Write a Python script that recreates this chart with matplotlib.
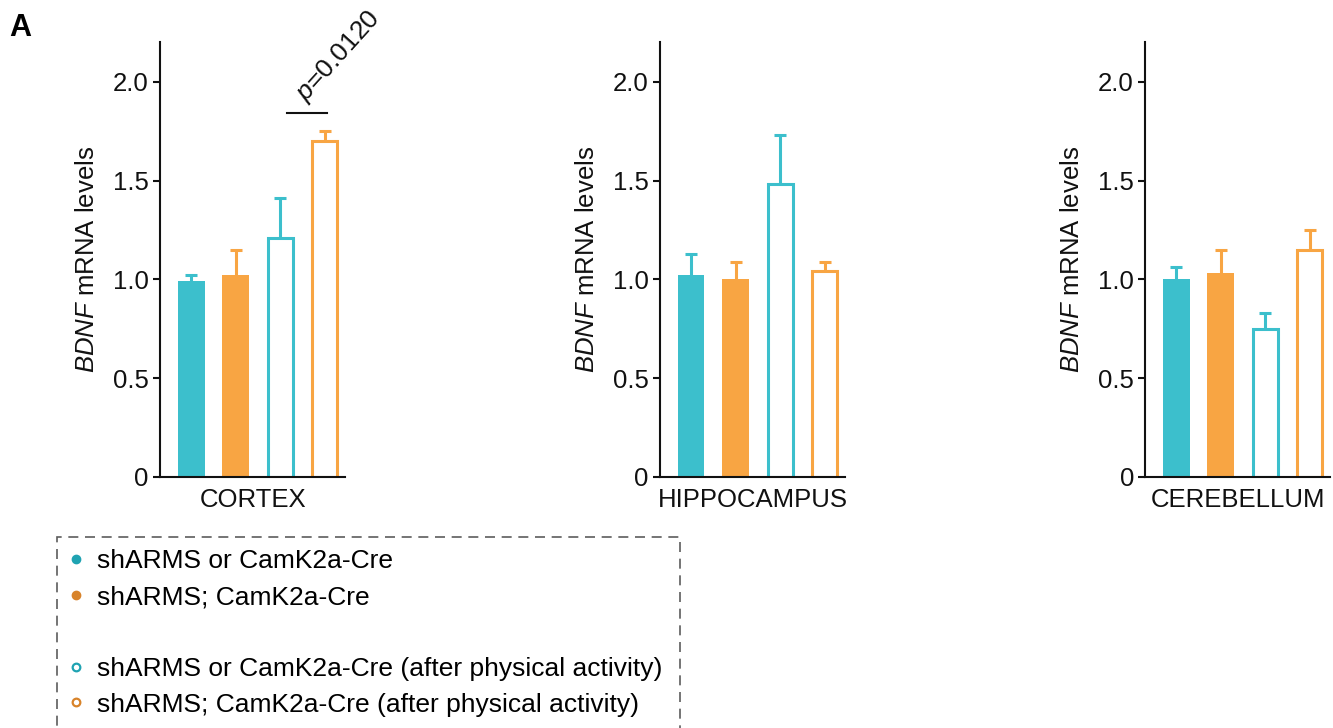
import matplotlib
matplotlib.use("Agg")
import matplotlib.pyplot as plt
from matplotlib.lines import Line2D
import numpy as np

plt.rcParams["font.family"] = ["Liberation Sans", "DejaVu Sans"]
plt.rcParams["mathtext.fontset"] = "custom"
plt.rcParams["mathtext.it"] = "Liberation Sans:italic"
plt.rcParams["mathtext.rm"] = "Liberation Sans"

regions = ["CORTEX", "HIPPOCAMPUS", "CEREBELLUM"]
groups = ["shARMS or CamK2a-Cre", "shARMS; CamK2a-Cre",
          "shARMS or CamK2a-Cre (after physical activity)",
          "shARMS; CamK2a-Cre (after physical activity)"]

means = {
    "CORTEX":      [0.99, 1.02, 1.21, 1.70],
    "HIPPOCAMPUS": [1.02, 1.00, 1.48, 1.04],
    "CEREBELLUM":  [1.00, 1.03, 0.75, 1.15],
}
errs = {
    "CORTEX":      [0.03, 0.13, 0.20, 0.05],
    "HIPPOCAMPUS": [0.11, 0.09, 0.25, 0.05],
    "CEREBELLUM":  [0.06, 0.12, 0.08, 0.10],
}
yticks = [0, 0.5, 1.0, 1.5, 2.0]
yticklabels = ["0", "0.5", "1.0", "1.5", "2.0"]
p_text = r"$\it{p}$=0.0120"

TEAL = "#3cbfcc"
ORANGE = "#f8a543"
TEAL_DK = "#1fa3b2"
ORANGE_DK = "#d8832a"
colors = [TEAL, ORANGE, TEAL, ORANGE]
filled = [True, True, False, False]

fig = plt.figure(figsize=(13.33, 7.28), dpi=100)

lefts = [0.120, 0.495, 0.859]
FS = 18.5
for left, reg in zip(lefts, regions):
    ax = fig.add_axes([left, 0.345, 0.139, 0.597])
    x = np.arange(4)
    for i in range(4):
        if filled[i]:
            ax.bar(x[i], means[reg][i], width=0.6, color=colors[i], zorder=2)
        else:
            ax.bar(x[i], means[reg][i], width=0.56, facecolor="white",
                   edgecolor=colors[i], linewidth=2.2, zorder=2)
        eb = ax.errorbar(x[i], means[reg][i], yerr=[[0], [errs[reg][i]]],
                         color=colors[i], elinewidth=2.2, capsize=4,
                         capthick=2.2, zorder=1)
        # only keep the upper cap
        for cap in eb[1]:
            if np.isclose(cap.get_ydata()[0], means[reg][i]):
                cap.set_visible(False)
    ax.set_xlim(-0.70, 3.46)
    ax.set_ylim(0, 2.2)
    ax.set_yticks(yticks)
    ax.set_yticklabels(yticklabels)
    ax.set_xticks([])
    ax.spines[["top", "right"]].set_visible(False)
    for s in ["left", "bottom"]:
        ax.spines[s].set_linewidth(1.5)
        ax.spines[s].set_color("#111111")
    ax.tick_params(axis="y", labelsize=FS, length=5, width=1.5,
                   colors="#111111", pad=3)
    ax.set_ylabel(r"$\it{BDNF}$ mRNA levels", fontsize=FS, color="#111111",
                  labelpad=10)
    ax.set_xlabel(reg, fontsize=FS, color="#111111", labelpad=8)

    if reg == "CORTEX":
        ax.plot([2.15, 3.05], [1.84, 1.84], color="#111111", lw=1.5,
                clip_on=False)
        ax.text(3.32, 2.13, p_text, rotation=48, ha="center", va="center",
                fontsize=19, color="#111111", clip_on=False)

fig.text(0.007, 0.962, "A", fontsize=22, fontweight="bold", ha="left",
         va="center")

handles = [
    Line2D([], [], ls="none", marker="o", markersize=6, color=TEAL_DK),
    Line2D([], [], ls="none", marker="o", markersize=6, color=ORANGE_DK),
    Line2D([], [], ls="none", marker=None),
    Line2D([], [], ls="none", marker="o", markersize=5.5, markerfacecolor="white",
           markeredgecolor=TEAL_DK, markeredgewidth=1.6),
    Line2D([], [], ls="none", marker="o", markersize=5.5, markerfacecolor="white",
           markeredgecolor=ORANGE_DK, markeredgewidth=1.6),
]
labels = [groups[0], groups[1], " ", groups[2], groups[3]]
leg = fig.legend(handles, labels, loc="upper left",
                 bbox_to_anchor=(0.043, 0.262, 0.467, 0.0), mode="expand",
                 fontsize=19, frameon=True, fancybox=False, handlelength=0.5,
                 handletextpad=0.55, labelspacing=0.45, borderpad=0.45,
                 borderaxespad=0.0)
fr = leg.get_frame()
fr.set_linestyle((0, (6, 4)))
fr.set_edgecolor("#333333")
fr.set_linewidth(1.2)

fig.savefig("out.png", dpi=100)
